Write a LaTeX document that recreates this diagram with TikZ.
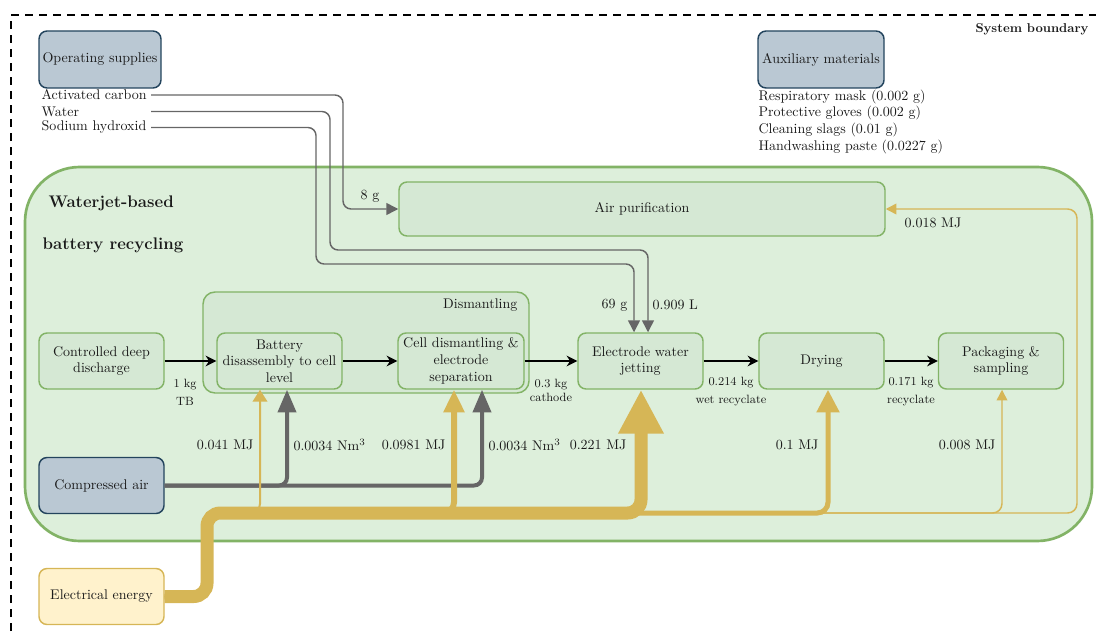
\documentclass[tikz,border=0pt]{standalone}
\usetikzlibrary{arrows.meta}
\definecolor{gfill}{HTML}{D5E8D4}
\definecolor{gbig}{HTML}{DDEFDB}
\definecolor{gline}{HTML}{82B366}
\definecolor{bfill}{HTML}{BAC8D3}
\definecolor{bline}{HTML}{23445D}
\definecolor{yfill}{HTML}{FFF2CC}
\definecolor{yline}{HTML}{D6B656}
\definecolor{greyl}{HTML}{666666}
\definecolor{txt}{HTML}{1A1A1A}
\begin{document}
\begin{tikzpicture}[x=0.75pt,y=-0.75pt,
  every node/.style={text=txt, font=\fontsize{10.5}{12.5}\selectfont, inner sep=1pt},
  proc/.style={draw=gline, fill=gfill, line width=1.1pt, rounded corners=6pt,
    minimum width=93.75pt, minimum height=42pt, align=center},
  supply/.style={draw=bline, fill=bfill, line width=1.1pt, rounded corners=6pt,
    minimum width=93.75pt, minimum height=42pt, align=center},
  energybox/.style={draw=yline, fill=yfill, line width=1.1pt, rounded corners=6pt,
    minimum width=93.75pt, minimum height=42pt, align=center},
  small/.style={font=\fontsize{9}{13.5}\selectfont, align=center},
  flow/.style={draw=black, line width=1.1pt, -{Stealth[length=8pt,width=8pt]}},
  supl/.style={draw=greyl, line width=1.1pt, rounded corners=6pt, -{Triangle[length=9pt,width=9pt]}},
  airl/.style={draw=greyl, line width=3pt, rounded corners=6pt, -{Triangle[length=17pt,width=13.5pt]}},
  elthin/.style={draw=yline, line width=1.1pt, rounded corners=7pt, -{Triangle[length=8pt,width=8pt]}},
  boundary/.style={draw=black, line width=2.2pt, dash pattern=on 6pt off 4.5pt}
]
\useasboundingbox (0,0) rectangle (1096,635);

% system boundary
\draw[boundary] (11,645) -- (11,15) -- (1105,15);
\node[anchor=east, font=\fontsize{9.6}{12}\selectfont\bfseries] (sysb) at (1090,29) {System boundary};

% supplies
\node[supply, minimum width=91.5pt, minimum height=42.75pt] (ops) at (100,59.5) {Operating supplies};
\node[supply, minimum width=94.5pt, minimum height=42.75pt] (aux) at (821,59.5) {Auxiliary materials};
\node[anchor=west, text width=81pt, align=left] (ac) at (40,95) {Activated carbon};
\node[anchor=west, text width=81pt, align=left] (water) at (40,111.5) {Water};
\node[anchor=west, text width=81pt, align=left] (soda) at (40,127.5) {Sodium hydroxid};
\node[anchor=north west, align=left] (auxlist) at (757,88) {Respiratory mask (0.002 g)\\Protective gloves (0.002 g)\\Cleaning slags (0.01 g)\\Handwashing paste (0.0227 g)};

% big process area
\node[draw=gline, fill=gbig, line width=2pt, rounded corners=41pt,
  minimum width=800.25pt, minimum height=280.5pt] (sys) at (558.5,354) {};
\node[anchor=west, font=\fontsize{12.6}{14}\selectfont\bfseries] (t1) at (47,203) {Waterjet-based};
\node[anchor=west, font=\fontsize{12.6}{14}\selectfont\bfseries] (t2) at (41,245) {battery recycling};

\node[proc, minimum width=364.5pt, minimum height=40.5pt] (airpur) at (642,209) {Air purification};

\node[proc, rounded corners=9pt, minimum width=244.5pt, minimum height=75.75pt] (dism) at (366,342.5) {};
\node[anchor=east] (dismlab) at (519,305) {Dismantling};

\node[proc] (cdd) at (101.5,361) {Controlled deep\\discharge};
\node[proc] (bat) at (279.5,361) {Battery\\disassembly to cell\\level};
\node[proc, minimum width=94.5pt] (cell) at (461,361) {Cell dismantling \&\\electrode\\separation};
\node[proc] (ewj) at (640.5,361) {Electrode water\\jetting};
\node[proc] (dry) at (821.5,361) {Drying};
\node[proc] (pack) at (1001,361) {Packaging \&\\sampling};

\node[supply] (comp) at (101.5,485.5) {Compressed air};
\node[energybox] (elec) at (101.5,596.5) {Electrical energy};

% main flow
\draw[flow] (cdd) -- (bat);
\draw[flow] (bat) -- (cell);
\draw[flow] (cell) -- (ewj);
\draw[flow] (ewj) -- (dry);
\draw[flow] (dry) -- (pack);
\node[small] (l1) at (185,392) {1 kg\\TB};
\node[small, font=\fontsize{9}{10.5}\selectfont] (l2) at (551,390) {0.3 kg\\cathode};
\node[small] (l3) at (731,392) {0.214 kg\\wet recyclate};
\node[small] (l4) at (911,392) {0.171 kg\\recyclate};

% operating supplies lines
\draw[supl] (ac.east) -- (343,95) -- (343,209) -- (airpur.west);
\draw[supl] (water.east) -- (330,111.5) -- (330,250) -- (648,250) -- (ewj.north -| 648,0);
\draw[supl] (soda.east) -- (316,127.5) -- (316,264) -- (634,264) -- (ewj.north -| 634,0);
\node (g8) at (370,196) {8 g};
\node[anchor=east] (g69) at (629,305) {69 g};
\node[anchor=west] (l909) at (651,305) {0.909 L};

% compressed air
\draw[airl] (comp.east) -- (287,485.5) -- (bat.south -| 287,0);
\draw[airl] (comp.east) -- (482,485.5) -- (cell.south -| 482,0);

% electrical energy
\draw[elthin] (elec.east) -- (207,596.5) -- (207,513) -- (1077,513) -- (1077,209) -- (airpur.east);
\draw[elthin] (elec.east) -- (207,596.5) -- (207,513) -- (1002,513) -- (pack.south -| 1002,0);
\draw[elthin, line width=1.5pt, -{Triangle[length=9pt,width=11pt]}] (elec.east) -- (207,596.5) -- (207,513) -- (260,513) -- (bat.south -| 260,0);
\draw[draw=yline, line width=4.5pt, rounded corners=8pt, -{Triangle[length=17pt,width=15pt]}] (elec.east) -- (207,596.5) -- (207,513) -- (454,513) -- (cell.south -| 454,0);
\draw[draw=yline, line width=3.75pt, rounded corners=8pt, -{Triangle[length=17pt,width=16.5pt]}] (elec.east) -- (207,596.5) -- (207,513) -- (828,513) -- (dry.south -| 828,0);
\draw[draw=yline, line width=9.75pt, rounded corners=10pt, -{Triangle[length=33pt,width=32pt]}] (elec.east) -- (207,596.5) -- (207,513) -- (641,513) -- (ewj.south -| 641,0);

\node[anchor=east] (e1) at (255,445) {0.041 MJ};
\node[anchor=west] (a1) at (292,445) {0.0034 Nm\textsuperscript{3}};
\node[anchor=east] (e2) at (447,445) {0.0981 MJ};
\node[anchor=west] (a2) at (487,445) {0.0034 Nm\textsuperscript{3}};
\node[anchor=east] (e3) at (628,445) {0.221 MJ};
\node[anchor=east] (e4) at (820,445) {0.1 MJ};
\node[anchor=east] (e5) at (997,445) {0.008 MJ};
\node[anchor=west] (e6) at (903,223) {0.018 MJ};
\end{tikzpicture}
\end{document}
